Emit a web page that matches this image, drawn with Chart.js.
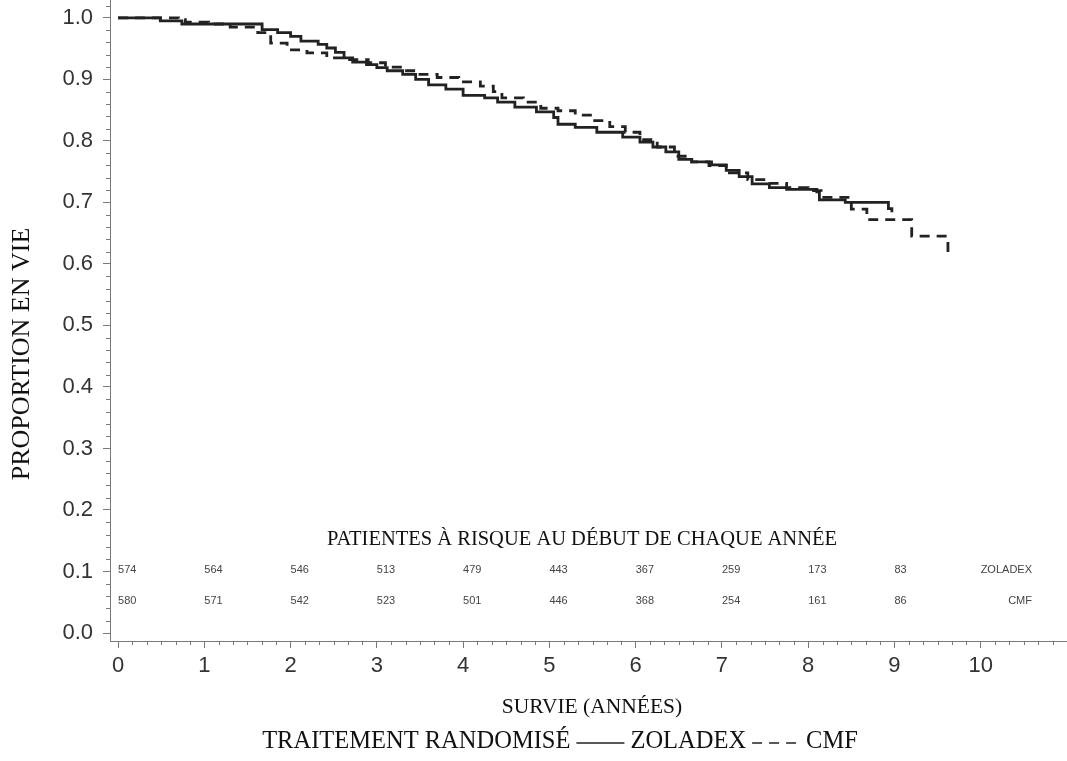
<!DOCTYPE html>
<html>
<head>
<meta charset="utf-8">
<script src="https://cdn.jsdelivr.net/npm/chart.js@4.4.0/dist/chart.umd.min.js"></script>
<style>
  html, body { margin: 0; padding: 0; background: #fff; }
</style>
</head>
<body>
<canvas id="km" width="1067" height="761"></canvas>
<script>
// Kaplan-Meier steps (time in years, survival after the step)
const zoladexYears = [0, 0.49, 0.74, 1.67, 1.85, 2.0, 2.12, 2.32, 2.42, 2.52, 2.62, 2.72, 2.88, 3.0, 3.12, 3.3, 3.45, 3.6, 3.8, 4.0, 4.25, 4.4, 4.6, 4.85, 5.05, 5.1, 5.3, 5.55, 5.85, 6.05, 6.2, 6.35, 6.5, 6.65, 6.88, 7.05, 7.2, 7.35, 7.55, 7.75, 8.1, 8.13, 8.43, 8.93, 8.97];
const zoladexSurv  = [1.0, 0.995, 0.990, 0.981, 0.976, 0.970, 0.962, 0.957, 0.951, 0.944, 0.935, 0.928, 0.924, 0.919, 0.914, 0.908, 0.900, 0.891, 0.884, 0.874, 0.870, 0.863, 0.855, 0.847, 0.838, 0.827, 0.822, 0.814, 0.806, 0.798, 0.790, 0.782, 0.770, 0.766, 0.761, 0.752, 0.742, 0.730, 0.724, 0.721, 0.717, 0.704, 0.700, 0.690, 0.684];

const cmfYears = [0, 0.7, 0.78, 1.05, 1.3, 1.62, 1.77, 1.96, 2.19, 2.42, 2.63, 2.9, 3.1, 3.3, 3.5, 3.7, 3.95, 4.2, 4.35, 4.45, 4.7, 4.9, 5.1, 5.3, 5.5, 5.7, 5.88, 6.05, 6.25, 6.45, 6.65, 6.85, 7.05, 7.3, 7.55, 7.75, 8.0, 8.15, 8.5, 8.68, 9.2, 9.62];
const cmfSurv  = [1.0, 0.997, 0.993, 0.990, 0.985, 0.976, 0.959, 0.948, 0.943, 0.935, 0.932, 0.927, 0.920, 0.914, 0.908, 0.903, 0.896, 0.889, 0.880, 0.870, 0.863, 0.853, 0.849, 0.842, 0.833, 0.823, 0.814, 0.802, 0.790, 0.775, 0.766, 0.760, 0.748, 0.737, 0.731, 0.724, 0.719, 0.708, 0.689, 0.672, 0.645, 0.615];

// patients at risk at the start of each year
const riskYears   = [0, 1, 2, 3, 4, 5, 6, 7, 8, 9];
const zoladexRisk = [574, 564, 546, 513, 479, 443, 367, 259, 173, 83];
const cmfRisk     = [580, 571, 542, 523, 501, 446, 368, 254, 161, 86];

const xTicks = [0, 1, 2, 3, 4, 5, 6, 7, 8, 9, 10];
const yTicks = [0, 0.1, 0.2, 0.3, 0.4, 0.5, 0.6, 0.7, 0.8, 0.9, 1.0];

const lineColor = '#222';
const axisColor = '#7a7a7a';
const serif = '"Liberation Serif", "Times New Roman", serif';
const sans = '"Liberation Sans", Arial, sans-serif';

const toPoints = (xs, ys) => xs.map((x, i) => ({ x: x, y: ys[i] }));

const annotations = {
  id: 'annotations',
  afterDraw(chart) {
    const ctx = chart.ctx;
    const xs = chart.scales.x;
    const ys = chart.scales.y;
    const area = chart.chartArea;

    ctx.save();
    // minor ticks
    ctx.strokeStyle = axisColor;
    ctx.lineWidth = 1;
    ctx.beginPath();
    for (let i = 1; i < 52; i++) {
      if (i % 5 === 0) continue;
      const py = Math.round(ys.getPixelForValue(i * 0.02)) + 0.5;
      ctx.moveTo(area.left - 4, py);
      ctx.lineTo(area.left, py);
    }
    for (let i = 0; i <= 66; i++) {
      if (i % 6 === 0) continue;
      const px = Math.round(xs.getPixelForValue(i / 6)) + 0.5;
      if (px > area.right) break;
      ctx.moveTo(px, area.bottom);
      ctx.lineTo(px, area.bottom + 4);
    }
    ctx.stroke();

    // at-risk table
    ctx.fillStyle = '#111';
    ctx.font = '20.5px ' + serif;
    ctx.textAlign = 'center';
    ctx.textBaseline = 'middle';
    ctx.fillText('PATIENTES À RISQUE AU DÉBUT DE CHAQUE ANNÉE', 582, 540);

    ctx.fillStyle = '#444';
    ctx.font = '11px ' + sans;
    ctx.textAlign = 'left';
    riskYears.forEach((yr, i) => {
      const px = xs.getPixelForValue(yr);
      ctx.fillText(String(zoladexRisk[i]), px, 570);
      ctx.fillText(String(cmfRisk[i]), px, 601);
    });
    ctx.textAlign = 'right';
    ctx.fillText('ZOLADEX', 1032, 570);
    ctx.fillText('CMF', 1032, 601);

    // axis titles
    ctx.fillStyle = '#111';
    ctx.font = '21.5px ' + serif;
    ctx.textAlign = 'center';
    ctx.fillText('SURVIE (ANNÉES)', 592, 707);

    ctx.save();
    ctx.translate(22, 354);
    ctx.rotate(-Math.PI / 2);
    ctx.font = '26px ' + serif;
    ctx.fillText('PROPORTION EN VIE', 0, 0);
    ctx.restore();

    // legend line
    const ly = 742;
    ctx.textAlign = 'left';
    ctx.font = '24.5px ' + serif;
    const part1 = 'TRAITEMENT RANDOMISÉ';
    const part2 = 'ZOLADEX';
    const part3 = 'CMF';
    const sample = 48, gap = 6;
    const total = ctx.measureText(part1).width + ctx.measureText(part2).width +
      ctx.measureText(part3).width + 2 * sample + 4 * gap;
    let x = 560 - total / 2;
    ctx.fillText(part1, x, ly);
    x += ctx.measureText(part1).width + gap;
    ctx.strokeStyle = lineColor;
    ctx.lineWidth = 1.5;
    ctx.beginPath();
    ctx.moveTo(x, ly + 1);
    ctx.lineTo(x + sample, ly + 1);
    ctx.stroke();
    x += sample + gap;
    ctx.fillText(part2, x, ly);
    x += ctx.measureText(part2).width + gap;
    ctx.setLineDash([10, 7]);
    ctx.beginPath();
    ctx.moveTo(x, ly + 1);
    ctx.lineTo(x + sample, ly + 1);
    ctx.stroke();
    ctx.setLineDash([]);
    x += sample + gap;
    ctx.fillText(part3, x, ly);
    ctx.restore();
  }
};

new Chart(document.getElementById('km'), {
  type: 'line',
  data: {
    datasets: [
      {
        label: 'ZOLADEX',
        data: toPoints(zoladexYears, zoladexSurv),
        stepped: 'before',
        borderColor: lineColor,
        borderWidth: 2.8,
        pointRadius: 0,
        fill: false
      },
      {
        label: 'CMF',
        data: toPoints(cmfYears, cmfSurv),
        stepped: 'before',
        borderColor: lineColor,
        borderWidth: 2.8,
        borderDash: [10, 7],
        pointRadius: 0,
        fill: false
      }
    ]
  },
  options: {
    responsive: false,
    animation: false,
    devicePixelRatio: 1,
    layout: { padding: 0 },
    plugins: {
      legend: { display: false },
      tooltip: { enabled: false }
    },
    scales: {
      x: {
        type: 'linear',
        min: -0.093,
        max: 11.0,
        afterFit: (s) => { s.height = 120; s.paddingLeft = 0; s.paddingRight = 0; },
        afterBuildTicks: (s) => { s.ticks = xTicks.map(v => ({ value: v })); },
        ticks: {
          autoSkip: false,
          maxRotation: 0,
          padding: 5,
          color: '#333',
          font: { family: sans, size: 22 },
          callback: (v) => String(v)
        },
        grid: { drawOnChartArea: false, tickLength: 7, color: axisColor },
        border: { color: axisColor }
      },
      y: {
        type: 'linear',
        min: -0.013,
        max: 1.029,
        afterFit: (s) => { s.width = 110; s.paddingTop = 0; s.paddingBottom = 0; },
        afterBuildTicks: (s) => { s.ticks = yTicks.map(v => ({ value: v })); },
        ticks: {
          autoSkip: false,
          padding: 10,
          color: '#333',
          font: { family: sans, size: 22 },
          callback: (v) => v.toFixed(1)
        },
        grid: { drawOnChartArea: false, tickLength: 7, color: axisColor },
        border: { color: axisColor }
      }
    }
  },
  plugins: [annotations]
});
</script>
</body>
</html>
